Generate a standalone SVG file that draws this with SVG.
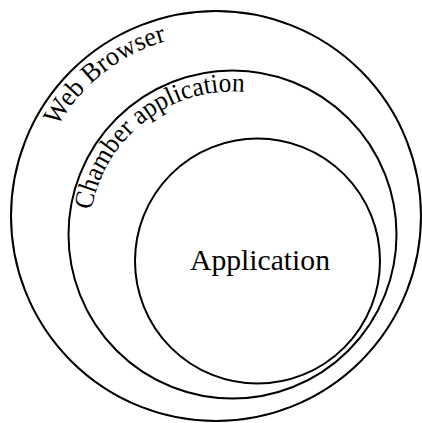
<svg xmlns="http://www.w3.org/2000/svg" width="422" height="423" viewBox="0 0 422 423">
<style>
.ring{fill:none;stroke:#000;stroke-width:2}
.lbl{font-family:"Liberation Serif","Times New Roman",serif;fill:#000}
</style>
<defs>
<path id="pWeb" d="M57.6,126.5 A182,182 0 0 1 247.6,36.8"/>
<path id="pCham" d="M91.6,210.3 A143,143 0 0 1 281.4,100.1"/>
</defs>
<rect width="422" height="423" fill="#fff"/>
<g id="web-browser">
<circle class="ring" cx="216" cy="216" r="205"/>
<text class="lbl" font-size="27"><textPath href="#pWeb" textLength="142" lengthAdjust="spacingAndGlyphs">Web Browser</textPath></text>
</g>
<g id="chamber-application">
<circle class="ring" cx="232.5" cy="234.5" r="164"/>
<text class="lbl" font-size="27"><textPath href="#pCham" textLength="212" lengthAdjust="spacingAndGlyphs">Chamber application</textPath></text>
</g>
<g id="application">
<circle class="ring" cx="257.5" cy="261" r="122.5"/>
<text class="lbl" x="260" y="270" font-size="29" text-anchor="middle" textLength="140" lengthAdjust="spacingAndGlyphs">Application</text>
</g>
<g id="connectors"/>
</svg>
